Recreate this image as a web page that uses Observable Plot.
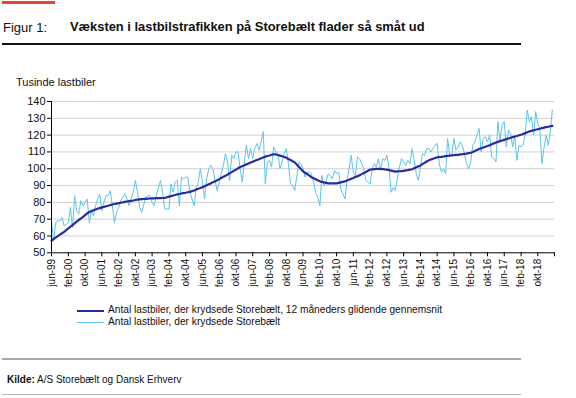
<!DOCTYPE html>
<html>
<head>
<meta charset="utf-8">
<script src="https://cdn.jsdelivr.net/npm/d3@7"></script>
<script src="https://cdn.jsdelivr.net/npm/@observablehq/plot@0.6"></script>
<style>
  html, body { margin: 0; padding: 0; background: #fff; }
  body { width: 576px; height: 398px; position: relative; overflow: hidden;
         font-family: "Liberation Sans", Arial, Helvetica, sans-serif; color: #111; }
  .abs { position: absolute; white-space: nowrap; line-height: 1; }
  #chart { position: absolute; left: 0; top: 88px; }
  .sw { position: absolute; }
</style>
</head>
<body>
<div class="abs" style="left:2px;top:1px;width:53px;height:3px;background:#e5462f"></div>
<div class="abs" style="left:3px;top:21px;font-size:13px;">Figur 1:</div>
<div class="abs" style="left:70px;top:20.8px;font-size:12.9px;font-weight:bold;">Væksten i lastbilstrafikken på Storebælt flader så småt ud</div>
<div class="abs" style="left:2px;top:42.5px;width:519px;height:2px;background:#111"></div>
<div class="abs" style="left:16px;top:77px;font-size:11px;">Tusinde lastbiler</div>
<div id="chart"></div>
<div id="legend"></div>
<div class="abs" style="left:2px;top:358px;width:519px;height:2px;background:#a6aaad"></div>
<div class="abs" style="left:7px;top:374.5px;font-size:10px;"><b>Kilde:</b> A/S Storebælt og Dansk Erhverv</div>
<div class="abs" style="left:2px;top:393.5px;width:519px;height:1.5px;background:#b3b6b8"></div>
<script>
// ---- data ----
const startMonth = "jun-99"; // first month of the series
const seriesNames = [
  "Antal lastbiler, der krydsede Storebælt, 12 måneders glidende gennemsnit",
  "Antal lastbiler, der krydsede Storebælt"
];
// monthly crossings (thousands), jun-99 .. maj-19
const monthly = [
  69, 57, 68, 69, 69, 71, 66, 67, 68, 77, 65, 84,
  75, 73, 81, 78, 80, 82, 68, 75, 72, 78, 82, 85,
  75, 80, 84, 84, 87, 78, 68, 74, 77, 81, 83, 85,
  82, 78, 82, 86, 93, 86, 77, 74, 79, 83, 84, 84,
  80, 78, 84, 89, 93, 86, 76, 76, 76, 91, 86, 92,
  93, 78, 95, 94, 95, 95, 86, 82, 78, 88, 92, 100,
  92, 82, 94, 100, 102, 100, 93, 87, 92, 97, 102, 109,
  104, 93, 108, 106, 110, 110, 100, 92, 104, 114, 106, 112,
  106, 112, 115, 111, 116, 122, 91, 104, 105, 101, 113, 110,
  109, 100, 104, 109, 112, 103, 91, 90, 87, 95, 104, 103,
  100, 95, 98, 98, 97, 92, 86, 83, 78, 96, 90, 92,
  97, 96, 94, 99, 97, 98, 88, 85, 82, 93, 100, 108,
  98, 96, 107, 106, 103, 100, 93, 92, 91, 100, 103, 101,
  106, 99, 106, 105, 108, 101, 86, 89, 87, 94, 101, 106,
  104, 102, 105, 103, 112, 105, 97, 93, 101, 109, 108, 112,
  112, 110, 112, 114, 115, 103, 98, 100, 97, 118, 108, 108,
  118, 111, 113, 116, 114, 109, 103, 100, 104, 114, 116, 120,
  124, 110, 118, 119, 116, 120, 107, 106, 104, 128, 117, 126,
  128, 113, 123, 121, 113, 119, 105, 114, 113, 114, 120, 135,
  128, 131, 120, 134, 127, 124, 103, 113, 120, 114, 122, 135
];
// 12-month moving average (thousands)
const movingAvg = [
  57.3, 58.2, 59.0, 59.9, 60.8, 61.6, 62.5, 63.5, 64.5, 65.5, 66.5, 67.5,
  68.5, 69.5, 70.4, 71.4, 72.4, 73.4, 74.3, 74.8, 75.3, 75.8, 76.2, 76.6,
  77.0, 77.3, 77.7, 78.0, 78.4, 78.7, 79.0, 79.3, 79.5, 79.8, 80.0, 80.3,
  80.5, 80.7, 80.9, 81.1, 81.4, 81.6, 81.8, 81.9, 82.0, 82.1, 82.2, 82.3,
  82.4, 82.4, 82.5, 82.5, 82.5, 82.6, 82.6, 83.0, 83.4, 83.7, 84.1, 84.4,
  84.8, 85.0, 85.3, 85.5, 85.7, 86.0, 86.2, 86.7, 87.1, 87.6, 88.1, 88.5,
  89.0, 89.6, 90.2, 90.8, 91.3, 91.9, 92.5, 93.2, 93.8, 94.5, 95.2, 95.8,
  96.5, 97.3, 98.0, 98.8, 99.5, 100.3, 101.0, 101.5, 102.1, 102.6, 103.1, 103.7,
  104.2, 104.7, 105.2, 105.7, 106.2, 106.7, 107.2, 107.6, 107.9, 108.3, 108.6, 108.5,
  108.2, 107.8, 107.4, 107.0, 106.5, 105.8, 105.2, 104.5, 103.8, 102.5, 101.2, 99.8,
  98.5, 97.6, 96.8, 95.9, 95.0, 94.4, 93.8, 93.1, 92.5, 92.2, 91.9, 91.6,
  91.3, 91.3, 91.3, 91.3, 91.3, 91.6, 91.9, 92.2, 92.5, 93.0, 93.5, 94.0,
  94.5, 95.1, 95.6, 96.2, 96.8, 97.5, 98.1, 98.8, 99.5, 99.6, 99.8, 99.9,
  100.0, 99.9, 99.8, 99.6, 99.5, 99.2, 98.9, 98.6, 98.3, 98.4, 98.5, 98.6,
  98.7, 99.0, 99.2, 99.5, 99.7, 100.3, 100.9, 101.4, 102.0, 102.8, 103.5, 104.3,
  105.0, 105.5, 105.9, 106.4, 106.8, 107.0, 107.1, 107.3, 107.5, 107.6, 107.8, 107.9,
  108.1, 108.2, 108.3, 108.5, 108.6, 108.8, 109.0, 109.3, 109.5, 110.0, 110.6, 111.1,
  111.7, 112.2, 112.6, 113.1, 113.5, 114.0, 114.6, 115.1, 115.6, 116.0, 116.4, 116.8,
  117.2, 117.6, 118.0, 118.4, 118.8, 119.2, 119.5, 119.9, 120.2, 120.7, 121.2, 121.7,
  122.2, 122.5, 122.9, 123.2, 123.5, 123.8, 124.2, 124.5, 124.8, 125.0, 125.3, 125.5
];
const yTicks = [50, 60, 70, 80, 90, 100, 110, 120, 130, 140];
const xTickLabels = ["jun-99","feb-00","okt-00","jun-01","feb-02","okt-02","jun-03","feb-04","okt-04",
  "jun-05","feb-06","okt-06","jun-07","feb-08","okt-08","jun-09","feb-10","okt-10","jun-11","feb-12",
  "okt-12","jun-13","feb-14","okt-14","jun-15","feb-16","okt-16","jun-17","feb-18","okt-18"];
const axisEnd = "jun-19";
const monthAbbr = ["jan","feb","mar","apr","maj","jun","jul","aug","sep","okt","nov","dec"];

// ---- build ----
const colors = { avg: "#2a2a9f", raw: "#5bc4ee" };
function parseLbl(s) {
  const [m, y] = s.split("-");
  return new Date(Date.UTC(2000 + (+y > 50 ? +y - 100 : +y), monthAbbr.indexOf(m), 1));
}
const t0 = parseLbl(startMonth);
const tEnd = parseLbl(axisEnd);
const data = monthly.map((v, i) => ({ date: d3.utcMonth.offset(t0, i), raw: v, avg: movingAvg[i] }));
const labelByTime = new Map(xTickLabels.map(s => [+parseLbl(s), s]));
const xTicks = [...xTickLabels.map(parseLbl), tEnd];

const plot = Plot.plot({
  width: 576, height: 215,
  marginLeft: 51, marginRight: 22, marginTop: 13, marginBottom: 50.7,
  style: { fontFamily: '"Liberation Sans", Arial, sans-serif', fontSize: "11px", background: "transparent", color: "#111" },
  x: { type: "utc", domain: [t0, tEnd] },
  y: { domain: [50, 140] },
  marks: [
    Plot.gridY(yTicks.filter(v => v > 50), { stroke: "#d0d0d0", strokeOpacity: 1, strokeWidth: 1 }),
    Plot.line(data, { x: "date", y: "raw", stroke: colors.raw, strokeWidth: 1 }),
    Plot.line(data, { x: "date", y: "avg", stroke: colors.avg, strokeWidth: 2.2 }),
    Plot.ruleY([50], { stroke: "#000", strokeWidth: 1 }),
    Plot.ruleX([t0], { stroke: "#000", strokeWidth: 1 }),
    Plot.axisY(yTicks, { tickSize: 4, tickPadding: 2, fontSize: 11, label: null, stroke: "#000" }),
    Plot.axisX(xTicks, { tickSize: 4, tickPadding: 2, tickRotate: -90, fontSize: 10, label: null, stroke: "#000",
      tickFormat: d => labelByTime.get(+d) || "" })
  ]
});
document.getElementById("chart").appendChild(plot);

// legend
const legend = document.getElementById("legend");
const rows = [
  { name: seriesNames[0], color: colors.avg, w: 2.2, y: 310.7 },
  { name: seriesNames[1], color: colors.raw, w: 1, y: 322.3 }
];
rows.forEach(r => {
  const sw = document.createElement("div");
  sw.className = "sw";
  sw.style.cssText = `left:77px;top:${r.y - r.w / 2}px;width:27px;height:${r.w}px;background:${r.color}`;
  legend.appendChild(sw);
  const tx = document.createElement("div");
  tx.className = "abs";
  tx.style.cssText = `left:108px;top:${r.y - 5.6}px;font-size:10.2px;`;
  tx.textContent = r.name;
  legend.appendChild(tx);
});
</script>
</body>
</html>
